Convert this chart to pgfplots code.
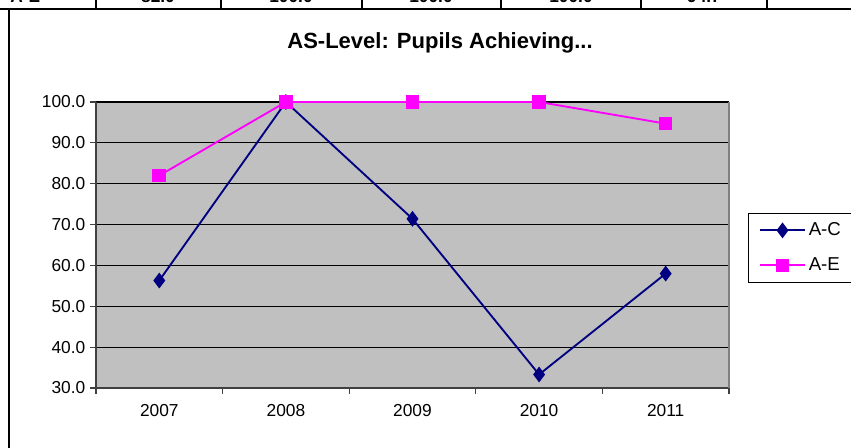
\documentclass[border=0pt]{standalone}
\usepackage{pgfplots}
\pgfplotsset{compat=1.18}
\usepackage{fontspec}
\setmainfont{Liberation Sans}
\definecolor{acnavy}{RGB}{0,0,128}
\definecolor{aemag}{RGB}{255,0,255}
\definecolor{plotgray}{RGB}{192,192,192}
\definecolor{axgray}{RGB}{64,64,64}
\begin{document}
\begin{tikzpicture}
\path[use as bounding box] (0pt,0pt) rectangle (638.25pt,336pt);
\begin{scope}[x=0.75pt,y=0.75pt]
\clip (0,0) rectangle (851,448);
\draw[line width=1.6pt] (0,439) -- (851,439);
\draw[line width=0.8pt] (9,0) -- (9,439);
\foreach \x in {96,221,362,501,641,767} \draw[line width=1.4pt] (\x,439) -- (\x,448);
\begin{scope}
\clip (0,440.5) rectangle (851,448);
\node[anchor=base west,font=\fontsize{13}{15}\selectfont\bfseries,inner sep=0pt] at (10,445) {A-E};
\node[anchor=base,font=\fontsize{13}{15}\selectfont\bfseries,inner sep=0pt] at (158,445) {82.0};
\node[anchor=base,font=\fontsize{13}{15}\selectfont\bfseries,inner sep=0pt] at (291,445) {100.0};
\node[anchor=base,font=\fontsize{13}{15}\selectfont\bfseries,inner sep=0pt] at (431,445) {100.0};
\node[anchor=base,font=\fontsize{13}{15}\selectfont\bfseries,inner sep=0pt] at (571,445) {100.0};
\node[anchor=base,font=\fontsize{13}{15}\selectfont\bfseries,inner sep=0pt] at (704,445) {94.7};
\end{scope}
\node[font=\fontsize{16.5}{18}\selectfont\bfseries,anchor=base] at (440,399) {AS-Level: Pupils Achieving...};
\end{scope}
\begin{axis}[
  at={(72pt,45pt)}, anchor=south west,
  scale only axis, width=474.75pt, height=214.5pt,
  xmin=-0.5, xmax=4.5, ymin=30, ymax=100,
  xtick={0,1,2,3,4}, xticklabels={2007,2008,2009,2010,2011},
  minor xtick={-0.5,0.5,1.5,2.5,3.5,4.5},
  ytick={30,40,50,60,70,80,90,100},
  major x tick style={draw=none},
  tick align=outside, major tick length=4.5pt, minor tick length=4.5pt,
  tick style={line width=0.9pt, color=axgray},
  axis lines*=left,
  axis line style={line width=1.5pt, color=axgray, -},
  axis background/.style={fill=plotgray},
  ymajorgrids, major grid style={black, line width=0.8pt},
  ticklabel style={font=\fontsize{13}{15}\selectfont},
  yticklabel style={/pgf/number format/.cd, fixed, fixed zerofill, precision=1, assume math mode=true},
  xticklabel style={yshift=-4pt},
  clip=false,
  legend style={at={(1.030,0.611)}, anchor=north west, draw=black, fill=white,
    font=\fontsize{14}{16}\selectfont, row sep=11pt, inner xsep=8pt, inner ysep=5pt},
  legend cell align=left,
  legend image code/.code={\draw[mark repeat=2,mark phase=2,#1] plot coordinates {(0pt,0pt) (17pt,0pt) (34pt,0pt)};},
]
\draw[color=gray, line width=0.8pt] (rel axis cs:1,0) -- (rel axis cs:1,1);
\addplot[color=acnavy, line width=1.4pt, mark=diamond*, mark size=4.8pt, mark options={fill=acnavy}]
  coordinates {(0,56.3) (1,100.0) (2,71.4) (3,33.3) (4,58.0)};
\addlegendentry{A-C}
\addplot[color=aemag, line width=1.4pt, mark=square*, mark size=4.4pt, mark options={fill=aemag}]
  coordinates {(0,82.0) (1,100.0) (2,100.0) (3,100.0) (4,94.7)};
\addlegendentry{A-E}
\end{axis}
\end{tikzpicture}
\end{document}
